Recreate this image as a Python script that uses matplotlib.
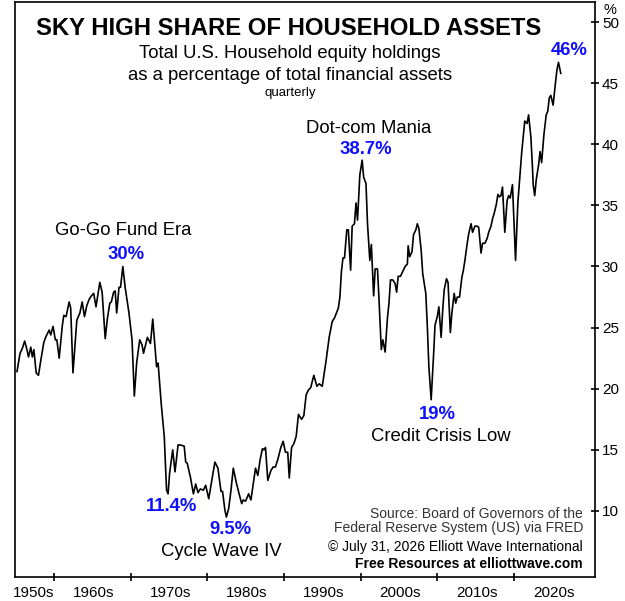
import numpy as np
import matplotlib
matplotlib.use("Agg")
import matplotlib.pyplot as plt
from matplotlib.ticker import FixedLocator, NullFormatter, FixedFormatter

plt.rcParams["font.family"] = ["Liberation Sans", "DejaVu Sans"]

# quarterly readings (year, % of financial assets)
quarter_year = [
    1955.2, 1955.6, 1955.9, 1956.2, 1956.5, 1956.7, 1957.0, 1957.2, 1957.4, 1957.7,
    1958.0, 1958.3, 1958.7, 1959.0, 1959.4, 1959.6, 1959.9, 1960.2, 1960.4, 1960.7,
    1961.1, 1961.3, 1961.6, 1962.0, 1962.2, 1962.5, 1963.0, 1963.4, 1963.7, 1964.0,
    1964.3, 1964.6, 1964.9, 1965.2, 1965.5, 1966.0, 1966.3, 1966.7, 1967.0, 1967.3,
    1967.5, 1967.8, 1968.0, 1968.2, 1968.5, 1968.7, 1969.0, 1969.3, 1969.8, 1970.2,
    1970.5, 1970.8, 1971.2, 1971.5, 1971.7, 1972.2, 1972.6, 1972.9,
    1973.4, 1973.6, 1974.0, 1974.4, 1974.7, 1974.9, 1975.1, 1975.5, 1975.8, 1976.2,
    1976.5, 1977.0, 1977.2, 1977.4, 1977.8, 1978.2, 1978.5, 1978.8, 1979.1, 1979.5,
    1979.8, 1980.2, 1980.6, 1981.0, 1981.4, 1981.8, 1982.0, 1982.3, 1982.5, 1982.8,
    1983.1, 1983.4, 1983.8, 1984.2, 1984.5, 1984.7, 1985.0, 1985.4, 1985.7, 1986.0,
    1986.3, 1986.6, 1986.9, 1987.2, 1987.4, 1987.6, 1987.9, 1988.3, 1988.6, 1988.9,
    1989.2, 1989.6, 1989.9, 1990.2, 1990.5, 1990.7, 1991.0, 1991.3, 1991.6, 1991.9,
    1992.3, 1992.6, 1992.9, 1993.2, 1993.5, 1993.9, 1994.3, 1994.6,
    1995.0, 1995.5, 1995.9, 1996.3, 1996.6, 1997.1, 1997.3, 1997.5, 1997.7, 1997.9,
    1998.2, 1998.4, 1998.7, 1998.9, 1999.2, 1999.4, 1999.6, 1999.9, 2000.2, 2000.4,
    2000.7, 2000.9, 2001.2, 2001.4, 2001.7, 2001.9, 2002.2, 2002.4, 2002.7, 2002.9,
    2003.2, 2003.5, 2003.7, 2003.9, 2004.2, 2004.5, 2004.7, 2004.9, 2005.2, 2005.5,
    2005.8, 2006.1, 2006.2, 2006.4, 2006.7, 2006.9, 2007.2, 2007.4, 2007.6, 2007.9,
    2008.1, 2008.5, 2008.7, 2008.9, 2009.2, 2009.5, 2009.7, 2010.0, 2010.2, 2010.5,
    2010.7, 2010.9, 2011.2, 2011.4, 2011.7, 2011.9, 2012.2, 2012.4, 2012.6, 2012.9,
    2013.2, 2013.4, 2013.6, 2013.9, 2014.1, 2014.4, 2014.6, 2014.9, 2015.2, 2015.4,
    2015.7, 2015.9, 2016.2, 2016.5, 2016.7, 2017.0, 2017.2, 2017.4, 2017.7, 2017.9,
    2018.1, 2018.3, 2018.5, 2018.8, 2019.1, 2019.3, 2019.5, 2019.8, 2020.2, 2020.5,
    2020.7, 2021.0, 2021.2, 2021.4, 2021.7, 2021.9, 2022.2, 2022.4, 2022.5, 2022.7,
    2022.9, 2023.2, 2023.4, 2023.6, 2023.9, 2024.2, 2024.4, 2024.6, 2024.8, 2025.1,
    2025.4, 2025.6, 2025.8, 2026.1,
]
equity_share = [
    21.4, 22.9, 23.3, 23.9, 23.2, 22.6, 23.4, 22.6, 23.2, 21.3,
    21.1, 22.3, 23.8, 24.3, 24.8, 24.4, 25.1, 24.0, 24.0, 22.5,
    25.1, 26.0, 25.9, 27.1, 26.6, 21.3, 25.6, 26.2, 27.1, 25.9,
    26.8, 27.3, 27.6, 27.8, 26.7, 28.7, 27.9, 24.1, 25.8, 27.0,
    27.1, 27.9, 28.0, 26.2, 28.3, 28.3, 30.0, 28.3, 26.2, 24.0,
    19.4, 22.1, 24.0, 23.6, 22.9, 24.2, 23.7, 25.7,
    21.8, 22.1, 18.8, 16.1, 11.7, 11.4, 13.1, 15.0, 13.2, 15.4,
    15.4, 15.3, 14.0, 13.9, 12.8, 11.4, 12.2, 11.5, 11.8, 11.7,
    12.1, 11.0, 12.5, 14.0, 13.5, 11.6, 11.6, 10.1, 9.5, 10.2,
    11.7, 13.5, 12.3, 11.3, 10.6, 10.9, 10.8, 11.4, 10.9, 12.2,
    13.5, 12.9, 14.2, 15.1, 15.0, 15.2, 12.5, 13.3, 13.6, 13.6,
    14.2, 15.2, 15.7, 14.8, 14.8, 12.7, 15.2, 15.5, 16.1, 17.9,
    17.5, 17.8, 19.5, 19.9, 20.1, 21.1, 20.2, 20.4,
    20.2, 22.3, 24.2, 25.5, 25.8, 26.6, 27.5, 29.6, 30.7, 30.7,
    33.0, 33.0, 29.7, 33.3, 33.5, 35.2, 33.8, 37.5, 38.7, 37.3,
    36.8, 33.5, 30.5, 31.8, 27.6, 29.8, 29.8, 27.3, 23.2, 24.0,
    23.0, 25.8, 27.0, 28.9, 28.9, 28.6, 27.9, 29.2, 29.2, 29.6,
    30.0, 30.2, 31.7, 30.8, 31.2, 32.6, 33.0, 33.5, 33.1, 31.3,
    29.4, 27.8, 25.1, 21.8, 19.1, 22.6, 25.2, 25.9, 26.7, 24.2,
    26.4, 28.1, 29.0, 28.7, 24.6, 26.2, 27.8, 27.0, 27.5, 27.5,
    29.1, 29.7, 30.5, 31.9, 32.7, 33.5, 32.8, 33.3, 33.3, 33.2,
    31.1, 31.9, 31.9, 32.3, 32.8, 33.3, 33.9, 34.3, 35.1, 35.9,
    35.7, 35.8, 36.5, 32.8, 35.4, 35.8, 35.6, 36.7, 30.5, 35.2,
    36.8, 39.3, 40.6, 41.9, 41.7, 42.4, 40.6, 38.2, 36.7, 35.8,
    37.1, 38.3, 39.4, 38.5, 40.8, 42.4, 42.7, 43.8, 44.0, 43.2,
    45.0, 46.1, 46.7, 45.8,
]

decade_ticks = [1960, 1970, 1980, 1990, 2000, 2010, 2020]
decade_label_pos = [1957.4, 1965.2, 1975.2, 1985.2, 1995.2, 2005.2, 2015.2, 2025.2]
decade_labels = ["1950s", "1960s", "1970s", "1980s", "1990s", "2000s", "2010s", "2020s"]
pct_ticks = [10, 15, 20, 25, 30, 35, 40, 45, 50]

BLUE = "#0f0fff"

fig = plt.figure(figsize=(6.25, 6.01), dpi=100)
ax = fig.add_axes([0.0235, 0.0404, 0.9285, 0.9571])

ax.plot(quarter_year, equity_share, color="black", linewidth=1.2)

ax.set_xlim(1954.9, 2030.56)
ax.set_ylim(4.62, 51.68)

for sp in ax.spines.values():
    sp.set_linewidth(1.2)

# x axis: tick marks at decade boundaries, labels in between
ax.xaxis.set_major_locator(FixedLocator(decade_ticks))
ax.xaxis.set_major_formatter(NullFormatter())
ax.xaxis.set_minor_locator(FixedLocator(decade_label_pos))
ax.xaxis.set_minor_formatter(FixedFormatter(decade_labels))
ax.tick_params(axis="x", which="major", direction="inout", length=6, width=1.2)
ax.tick_params(axis="x", which="minor", length=0, pad=7, labelsize=11)

# y axis on the right
ax.yaxis.tick_right()
ax.set_yticks(pct_ticks)
ax.tick_params(axis="y", direction="inout", length=6, width=1.2, pad=2, labelsize=11)
fig.text(0.976, 0.984, "%", fontsize=10.5, ha="center", va="center")

# titles
fig.text(0.462, 0.9534, "SKY HIGH SHARE OF HOUSEHOLD ASSETS",
         fontsize=17.2, fontweight="bold", ha="center", va="center")
fig.text(0.464, 0.9118, "Total U.S. Household equity holdings",
         fontsize=13.3, ha="center", va="center")
fig.text(0.464, 0.8752, "as a percentage of total financial assets",
         fontsize=13.3, ha="center", va="center")
fig.text(0.464, 0.8453, "quarterly", fontsize=9.5, ha="center", va="center")

# annotations
kw_txt = dict(fontsize=13.3, ha="center", va="center", color="black")
kw_pct = dict(fontsize=13.3, ha="center", va="center", color=BLUE, fontweight="bold")
ax.text(1969.06, 32.92, "Go-Go Fund Era", **kw_txt)
ax.text(1969.48, 31.01, "30%", **kw_pct)
ax.text(2001.0, 41.33, "Dot-com Mania", **kw_txt)
ax.text(2000.68, 39.58, "38.7%", **kw_pct)
ax.text(2027.14, 47.71, "46%", **kw_pct)
ax.text(1975.38, 10.39, "11.4%", **kw_pct)
ax.text(1983.01, 8.51, "9.5%", **kw_pct)
ax.text(1981.9, 6.65, "Cycle Wave IV", **kw_txt)
ax.text(2010.07, 17.92, "19%", **kw_pct)
ax.text(2010.46, 16.12, "Credit Crisis Low", **kw_txt)

# source block
ax.text(2029.0, 9.79, "Source: Board of Governors of the",
        fontsize=10, ha="right", va="center", color="#333333")
ax.text(2029.0, 8.57, "Federal Reserve System (US) via FRED",
        fontsize=10, ha="right", va="center", color="#333333")
ax.text(2029.0, 7.06, "\u00a9 July 31, 2026 Elliott Wave International",
        fontsize=10, ha="right", va="center", color="black")
ax.text(2029.0, 5.70, "Free Resources at elliottwave.com",
        fontsize=10, ha="right", va="center", color="black", fontweight="bold")

fig.savefig("out.png", dpi=100)
